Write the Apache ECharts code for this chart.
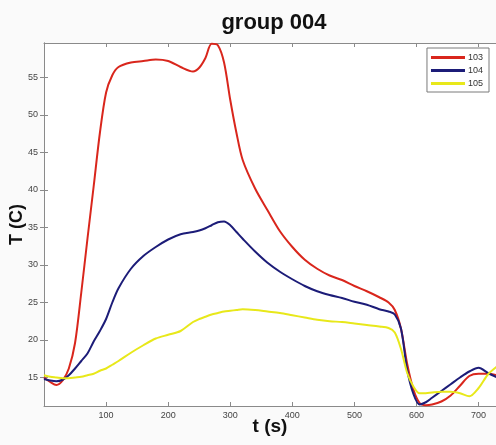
<!DOCTYPE html>
<html>
<head>
<meta charset="utf-8">
<script src="https://cdn.jsdelivr.net/npm/echarts@6/dist/echarts.min.js"></script>
<style>
  html, body { margin: 0; padding: 0; background: #fafafa; }
  #main { width: 496px; height: 445px; }
</style>
</head>
<body>
<div id="main"></div>
<script>
// time (s), shared by all three sensors
var times = [0,10,20,30,40,50,60,70,80,90,100,110,120,140,160,180,200,220,240,250,260,270,280,290,300,310,320,340,360,380,400,420,440,460,480,500,520,540,555,565,575,585,595,605,615,625,640,655,670,685,700,715,730];

var s103 = [15.0,14.4,14.0,14.6,16.2,19.6,26.3,33.5,40.5,47.6,53.0,55.3,56.4,57.0,57.2,57.4,57.2,56.4,55.8,56.3,57.6,59.5,59.3,57.0,52.0,47.6,44.0,40.2,37.3,34.5,32.4,30.7,29.5,28.6,28.0,27.2,26.5,25.7,25.0,24.0,21.5,16.8,13.4,11.6,11.3,11.4,11.8,12.6,13.9,15.2,15.5,15.5,15.3];

var s104 = [14.8,14.6,14.5,14.7,15.3,16.2,17.2,18.2,19.8,21.2,22.8,25.0,26.9,29.5,31.2,32.4,33.4,34.1,34.4,34.6,34.9,35.3,35.7,35.8,35.3,34.4,33.5,31.8,30.3,29.1,28.1,27.2,26.5,26.0,25.6,25.1,24.7,24.1,23.8,23.4,21.5,16.0,12.8,11.4,11.7,12.3,13.2,14.1,15.0,15.8,16.3,15.6,15.0];

var s105 = [15.3,15.1,15.0,14.9,14.9,15.0,15.1,15.3,15.5,15.9,16.2,16.7,17.2,18.3,19.3,20.2,20.7,21.2,22.4,22.8,23.1,23.4,23.6,23.8,23.9,24.0,24.1,24.0,23.8,23.6,23.3,23.0,22.7,22.5,22.4,22.2,22.0,21.8,21.6,21.0,18.8,15.6,13.8,12.9,12.9,13.0,13.1,13.1,12.9,12.5,13.6,15.4,16.5];

var seriesNames = ['103', '104', '105'];
var seriesColors = ['#d9261c', '#1c1c78', '#e8e81a'];
var xTicks = [100, 200, 300, 400, 500, 600, 700];
var yTicks = [15, 20, 25, 30, 35, 40, 45, 50, 55];

function pairs(vals) {
    return times.map(function (t, i) { return [t, vals[i]]; });
}

var chart = echarts.init(document.getElementById('main'));

var xBase = {
    type: 'value', min: 0, max: 728,
    axisLine: { lineStyle: { color: '#8a8a8a' } },
    axisTick: { inside: true, length: 4, customValues: xTicks, lineStyle: { color: '#8a8a8a' } },
    splitLine: { show: false }
};
var yBase = {
    type: 'value', min: 11.2, max: 59.6,
    axisLine: { show: true, lineStyle: { color: '#8a8a8a' } },
    axisTick: { show: true, inside: true, length: 4, customValues: yTicks, lineStyle: { color: '#8a8a8a' } },
    splitLine: { show: false }
};

chart.setOption({
    backgroundColor: '#fafafa',
    animation: false,
    title: {
        text: 'group 004',
        left: 269, top: 7, textAlign: 'center',
        textStyle: { fontFamily: 'Liberation Sans', fontSize: 22, fontWeight: 'bold', color: '#111' }
    },
    legend: {
        data: seriesNames,
        orient: 'vertical',
        right: 7, top: 48,
        itemWidth: 34, itemHeight: 3, itemGap: 4,
        icon: 'rect',
        padding: [5, 6, 4, 4],
        backgroundColor: '#ffffff',
        borderColor: '#7a7a7a', borderWidth: 1, borderRadius: 0,
        textStyle: { fontFamily: 'Liberation Sans', fontSize: 9, color: '#333', padding: [0, 0, 0, -2] }
    },
    grid: {
        left: 44, right: 0, top: 43, bottom: 39,
        outerBoundsMode: 'none', containLabel: false,
        backgroundColor: '#ffffff', show: true, borderWidth: 0
    },
    xAxis: [
        Object.assign({}, xBase, {
            position: 'bottom',
            name: 't (s)', nameLocation: 'middle', nameGap: 11, nameMoveOverlap: false,
            nameTextStyle: { fontFamily: 'Liberation Sans', fontSize: 19, fontWeight: 'bold', color: '#111', verticalAlign: 'top' },
            axisLabel: { customValues: xTicks, fontFamily: 'Liberation Sans', fontSize: 9, color: '#444', margin: 5 }
        }),
        Object.assign({}, xBase, { position: 'top', axisLabel: { show: false } })
    ],
    yAxis: [
        Object.assign({}, yBase, {
            position: 'left',
            name: 'T (C)', nameLocation: 'middle', nameGap: 18, nameMoveOverlap: false,
            nameTextStyle: { fontFamily: 'Liberation Sans', fontSize: 18, fontWeight: 'bold', color: '#111', verticalAlign: 'bottom' },
            axisLabel: { customValues: yTicks, fontFamily: 'Liberation Sans', fontSize: 9, color: '#444', margin: 6 }
        }),
        Object.assign({}, yBase, { position: 'right', axisLabel: { show: false } })
    ],
    series: [s103, s104, s105].map(function (vals, i) {
        return {
            name: seriesNames[i],
            type: 'line',
            data: pairs(vals),
            smooth: 0.3,
            showSymbol: false,
            color: seriesColors[i],
            lineStyle: { width: 2, color: seriesColors[i] }
        };
    })
});
</script>
</body>
</html>
